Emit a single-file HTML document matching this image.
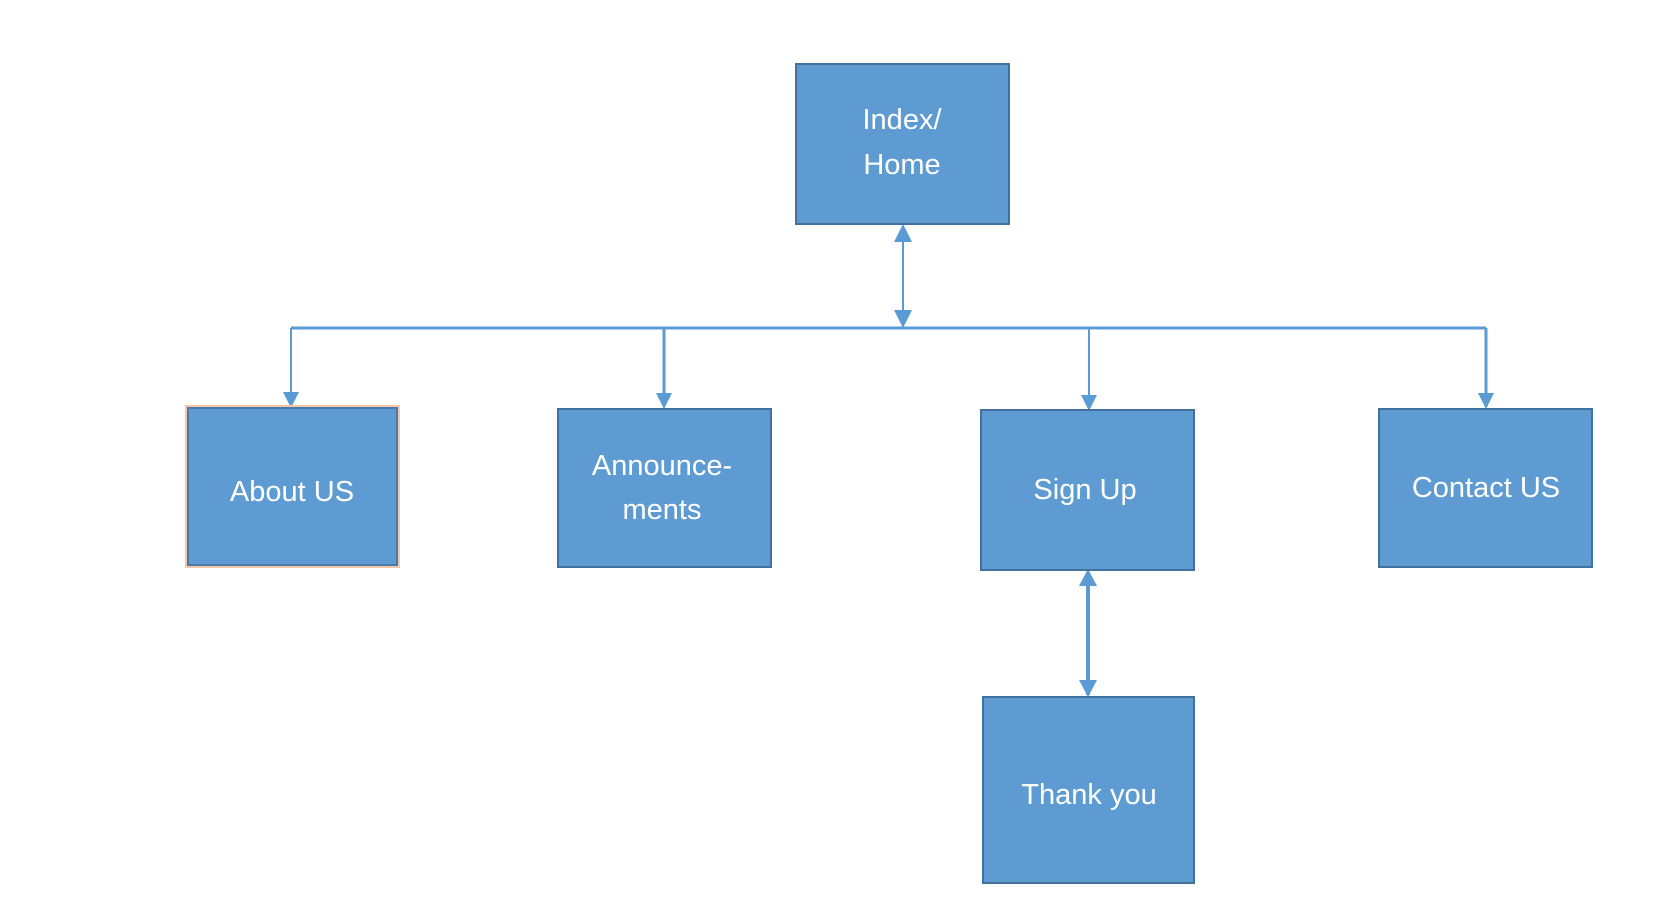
<!DOCTYPE html>
<html><head><meta charset="utf-8"><style>html,body{margin:0;padding:0;background:#fff;width:1662px;height:918px;overflow:hidden}</style></head>
<body>
<svg width="1662" height="918" xmlns="http://www.w3.org/2000/svg" font-family="'Liberation Sans', sans-serif" font-size="29" fill="#fff">
<g stroke="#5B9BD5" stroke-width="3" fill="none">
<line x1="903" y1="226" x2="903" y2="326" stroke-width="2"/>
<line x1="291" y1="328" x2="1486" y2="328"/>
<line x1="291" y1="328" x2="291" y2="405" stroke-width="2"/>
<line x1="664" y1="328" x2="664" y2="407"/>
<line x1="1089" y1="328" x2="1089" y2="409" stroke-width="2"/>
<line x1="1486" y1="328" x2="1486" y2="407"/>
<line x1="1088" y1="572" x2="1088" y2="695" stroke-width="4"/>
</g>
<g fill="#5B9BD5">
<path d="M903,224 l-9,18 h18 z"/><path d="M903,328 l-9,-18 h18 z"/>
<path d="M291,408 l-8,-16 h16 z"/>
<path d="M664,409 l-8,-16 h16 z"/>
<path d="M1089,411 l-8,-16 h16 z"/>
<path d="M1486,409 l-8,-16 h16 z"/>
<path d="M1088,569 l-9,17 h18 z"/><path d="M1088,697 l-9,-17 h18 z"/>
</g>
<g fill="#5F9BD3" stroke="#41719C" stroke-width="2">
<rect x="796" y="64" width="213" height="160"/>
<rect x="186" y="406" width="213" height="161" stroke="#F4C7A8"/>
<rect x="188" y="408" width="209" height="157" fill="none" stroke="#41719C" stroke-width="1.5"/>
<rect x="558" y="409" width="213" height="158"/>
<rect x="981" y="410" width="213" height="160"/>
<rect x="1379" y="409" width="213" height="158"/>
<rect x="983" y="697" width="211" height="186"/>
</g>
<g text-anchor="middle">
<text x="902" y="129">Index/</text>
<text x="902" y="174">Home</text>
<text x="292" y="501">About US</text>
<text x="662" y="475">Announce-</text>
<text x="662" y="519">ments</text>
<text x="1085" y="499">Sign Up</text>
<text x="1486" y="497">Contact US</text>
<text x="1089" y="804">Thank you</text>
</g>
</svg>
</body></html>
